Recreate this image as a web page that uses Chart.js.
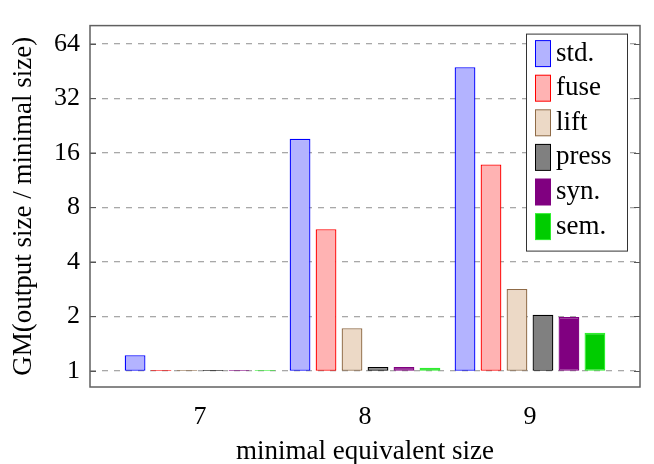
<!DOCTYPE html>
<html>
<head>
<meta charset="utf-8">
<script src="https://cdn.jsdelivr.net/npm/chart.js@4"></script>
<style>
  html, body { margin: 0; padding: 0; background: #fff; }
  #wrap { width: 654px; height: 464px; }
</style>
</head>
<body>
<div id="wrap"><canvas id="sizeChart"></canvas></div>
<script>
// minimal equivalent size (x categories)
const sizes = [7, 8, 9];

// GM(output size / minimal size) per method
const methods = ['std.', 'fuse', 'lift', 'press', 'syn.', 'sem.'];
const stdValues = [1.22, 19.1, 47.5];
const fuseValues = [1.01, 6.05, 13.8];
const liftValues = [1.01, 1.72, 2.83];
const pressValues = [1.01, 1.05, 2.04];
const synValues = [1.01, 1.05, 1.98];
const semValues = [1.01, 1.04, 1.62];

const yTicks = [1, 2, 4, 8, 16, 32, 64];

const fills = ['#b3b3ff', '#ffb3b3', '#ecd9c6', '#808080', '#800080', '#00cc00'];
const borders = ['#0000ff', '#ff0000', '#8f6b47', '#000000', '#800080', '#2ef02e'];

const FONT = "'Liberation Serif', 'DejaVu Serif', serif";

function toBars(values) {
  // bars start at 1 (the baseline of the log axis in the original)
  return sizes.map((s, i) => ({ x: s, y: [1, values[i]] }));
}

const allValues = [stdValues, fuseValues, liftValues, pressValues, synValues, semValues];

const datasets = methods.map((name, i) => ({
  label: name,
  data: toBars(allValues[i]),
  backgroundColor: fills[i],
  borderColor: borders[i],
  borderWidth: 1.3,
  borderSkipped: false,
  categoryPercentage: 0.945,
  barPercentage: 0.8
}));

// frame around the plot + inward tick marks on the y axis
const frame = {
  id: 'frame',
  afterDatasetsDraw(chart) {
    const { ctx, chartArea } = chart;
    const y = chart.scales.y;
    ctx.save();
    ctx.strokeStyle = '#555';
    ctx.lineWidth = 1.2;
    yTicks.forEach(t => {
      const py = Math.round(y.getPixelForValue(t)) + 0.5;
      ctx.beginPath();
      ctx.moveTo(chartArea.left, py);
      ctx.lineTo(chartArea.left + 6, py);
      ctx.moveTo(chartArea.right, py);
      ctx.lineTo(chartArea.right - 6, py);
      ctx.stroke();
    });
    ctx.strokeStyle = '#606060';
    ctx.lineWidth = 1.5;
    ctx.strokeRect(chartArea.left, chartArea.top, chartArea.right - chartArea.left, chartArea.bottom - chartArea.top);
    ctx.restore();
  }
};

// boxed legend in the upper right corner
const boxLegend = {
  id: 'boxLegend',
  afterDraw(chart) {
    const { ctx, chartArea } = chart;
    const w = 101, h = 217;
    const left = chartArea.right - 13 - w;
    const top = chartArea.top + 8;
    ctx.save();
    ctx.fillStyle = '#fff';
    ctx.fillRect(left, top, w, h);
    ctx.strokeStyle = '#333';
    ctx.lineWidth = 1;
    ctx.strokeRect(left + 0.5, top + 0.5, w, h);
    ctx.font = '27px ' + FONT;
    ctx.textBaseline = 'middle';
    chart.data.datasets.forEach((ds, i) => {
      const cy = top + 20 + i * 34.6;
      ctx.fillStyle = ds.borderColor;
      ctx.fillRect(left + 9, cy - 13.5, 16, 27);
      ctx.fillStyle = ds.backgroundColor;
      ctx.fillRect(left + 10, cy - 12.5, 14, 25);
      ctx.fillStyle = '#000';
      ctx.fillText(ds.label, left + 30, cy);
    });
    ctx.restore();
  }
};

const ctx = document.getElementById('sizeChart').getContext('2d');

const sizeChart = new Chart(ctx, {
  type: 'bar',
  data: { datasets: datasets },
  options: {
    responsive: true,
    maintainAspectRatio: false,
    animation: false,
    layout: { padding: { left: 0, right: 14, top: 7, bottom: 0 } },
    plugins: {
      legend: { display: false },
      tooltip: { enabled: false }
    },
    scales: {
      x: {
        type: 'linear',
        offset: false,
        min: 6.333,
        max: 9.667,
        afterBuildTicks: scale => { scale.ticks = sizes.map(v => ({ value: v })); },
        afterFit: scale => { scale.height = 77; },
        grid: { display: false, drawTicks: false },
        border: { display: false },
        ticks: { color: '#000', padding: 15, font: { family: FONT, size: 26 } },
        title: {
          display: true,
          text: 'minimal equivalent size',
          color: '#000',
          padding: { top: 0, bottom: -4 },
          font: { family: FONT, size: 27 }
        }
      },
      y: {
        type: 'logarithmic',
        min: 0.814,
        max: 80.6,
        afterBuildTicks: scale => { scale.ticks = yTicks.map(v => ({ value: v })); },
        afterFit: scale => { scale.width = 90; },
        grid: { color: '#a8a8a8', lineWidth: 1.3, drawTicks: false },
        border: { display: false, dash: [6, 6] },
        ticks: {
          color: '#000',
          padding: 10,
          font: { family: FONT, size: 26 },
          callback: value => String(value)
        },
        title: {
          display: true,
          text: 'GM(output size / minimal size)',
          color: '#000',
          padding: { top: 8, bottom: 0 },
          font: { family: FONT, size: 27 }
        }
      }
    }
  },
  plugins: [frame, boxLegend]
});
</script>
</body>
</html>
